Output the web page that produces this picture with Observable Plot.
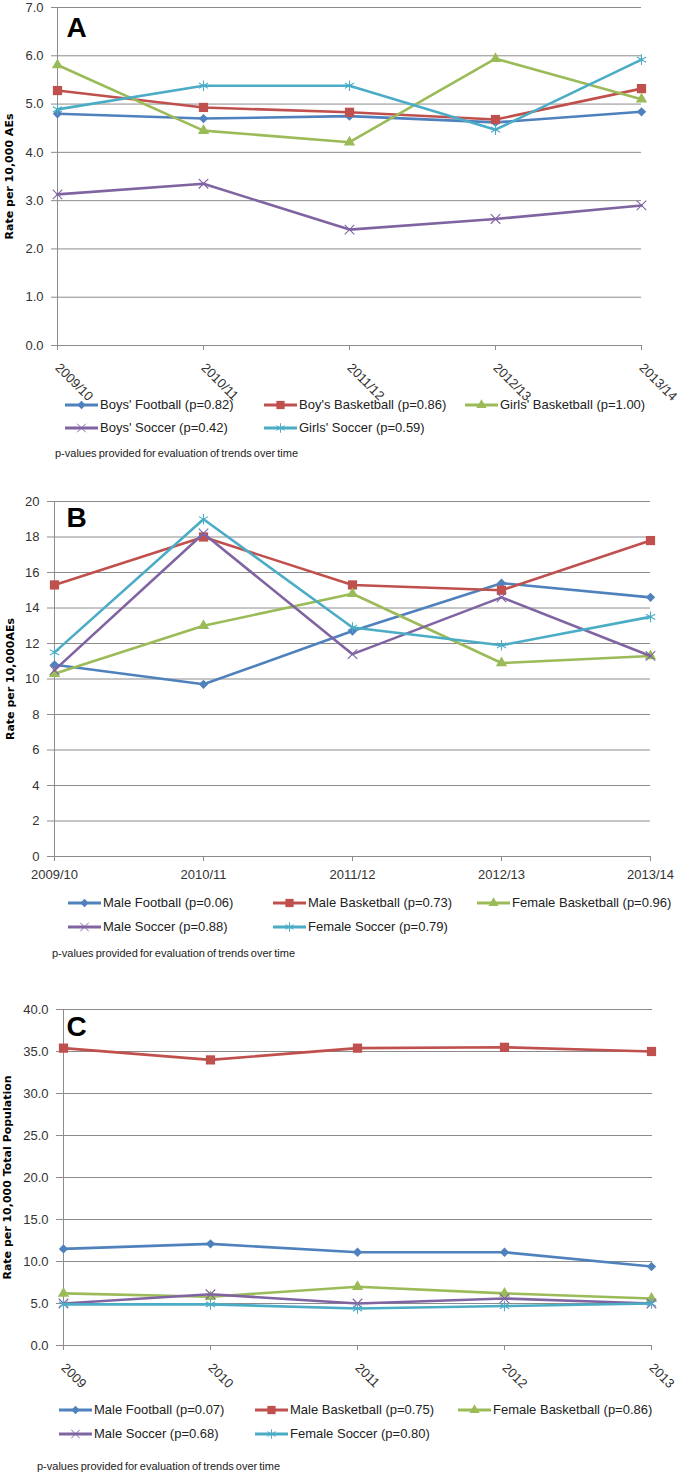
<!DOCTYPE html>
<html><head><meta charset="utf-8">
<script src="https://cdn.jsdelivr.net/npm/d3@7"></script>
<script src="https://cdn.jsdelivr.net/npm/@observablehq/plot@0.6"></script>
<style>
html,body{margin:0;padding:0;background:#fff;}
#page{position:relative;width:685px;height:1473px;overflow:hidden;font-family:"Liberation Sans",Arial,sans-serif;}
.panel{position:absolute;left:0;}
.leg{position:absolute;display:flex;align-items:center;font-size:13px;color:#222;white-space:nowrap;line-height:18px;}
.leg svg{display:block;margin-right:2px;}
.note{position:absolute;font-size:11px;color:#222;white-space:nowrap;word-spacing:-1px;line-height:14px;}
</style></head><body><div id="page"></div>
<script>
// ---------- DATA ----------
const seasons = ["2009/10", "2010/11", "2011/12", "2012/13", "2013/14"];
const years = ["2009", "2010", "2011", "2012", "2013"];

const seriesA = ["Boys' Football (p=0.82)", "Boy's Basketball (p=0.86)", "Girls' Basketball (p=1.00)", "Boys' Soccer (p=0.42)", "Girls' Soccer (p=0.59)"];
const boysFootballA   = [4.80, 4.70, 4.75, 4.62, 4.84];
const boysBasketballA = [5.28, 4.93, 4.83, 4.68, 5.32];
const girlsBasketballA = [5.81, 4.45, 4.21, 5.94, 5.10];
const boysSoccerA     = [3.13, 3.35, 2.40, 2.62, 2.90];
const girlsSoccerA    = [4.89, 5.38, 5.38, 4.47, 5.92];
const ticksA = [0, 1, 2, 3, 4, 5, 6, 7];

const seriesB = ["Male Football (p=0.06)", "Male Basketball (p=0.73)", "Female Basketball (p=0.96)", "Male Soccer (p=0.88)", "Female Soccer (p=0.79)"];
const maleFootballB    = [10.8, 9.7, 12.7, 15.4, 14.6];
const maleBasketballB  = [15.3, 18.0, 15.3, 15.0, 17.8];
const femaleBasketballB = [10.3, 13.0, 14.8, 10.9, 11.3];
const maleSoccerB      = [10.5, 18.2, 11.4, 14.6, 11.3];
const femaleSoccerB    = [11.5, 19.0, 12.9, 11.9, 13.5];
const ticksB = [0, 2, 4, 6, 8, 10, 12, 14, 16, 18, 20];

const seriesC = ["Male Football (p=0.07)", "Male Basketball (p=0.75)", "Female Basketball (p=0.86)", "Male Soccer (p=0.68)", "Female Soccer (p=0.80)"];
const maleFootballC    = [11.5, 12.1, 11.1, 11.1, 9.4];
const maleBasketballC  = [35.4, 34.0, 35.4, 35.5, 35.0];
const femaleBasketballC = [6.2, 5.8, 7.0, 6.2, 5.6];
const maleSoccerC      = [5.0, 6.1, 5.0, 5.6, 5.0];
const femaleSoccerC    = [4.9, 4.9, 4.4, 4.7, 5.0];
const ticksC = [0, 5, 10, 15, 20, 25, 30, 35, 40];

const footnote = "p-values provided for evaluation of trends over time";

// ---------- STYLE ----------
const colors = ["#4F81BD", "#C0504D", "#9BBB59", "#8064A2", "#4BACC6"];
const markers = [
  {symbol: "diamond2", r: 4.2, filled: true},
  {symbol: "square", r: 5.2, filled: true},
  {symbol: "triangle", r: 4.2, filled: true},
  {symbol: "times", r: 4.4, filled: false},
  {symbol: "asterisk", r: 5.0, filled: false}
];
const d3sym = {diamond2: d3.symbolDiamond2, square: d3.symbolSquare, triangle: d3.symbolTriangle, times: d3.symbolTimes, asterisk: d3.symbolAsterisk};
const gridColor = "#8c8c8c";
const textColor = "#333";

const page = document.getElementById("page");

function buildPanel(cfg) {
  const rows = [];
  cfg.series.forEach((name, i) => {
    cfg.values[i].forEach((v, j) => rows.push({cat: cfg.cats[j], value: v, series: name, idx: i}));
  });
  const marks = [
    Plot.ruleY(cfg.ticks, {stroke: gridColor, strokeWidth: 1}),
    Plot.ruleX([cfg.cats[0]], {stroke: gridColor, strokeWidth: 1}),
    Plot.axisY({ticks: cfg.ticks, tickFormat: cfg.fmt, tickSize: 6, tickPadding: 8, stroke: gridColor, fill: textColor, fontSize: 13, label: null}),
  ];
  if (cfg.rotate) {
    marks.push(Plot.axisX({ticks: cfg.cats, tickSize: 5, tickFormat: () => "", stroke: gridColor, label: null}));
    marks.push(Plot.text(cfg.cats, {x: d => d, frameAnchor: "bottom", dy: cfg.labelDy, rotate: 45, textAnchor: "start", lineAnchor: "middle", fill: textColor, fontSize: 13}));
  } else {
    marks.push(Plot.axisX({ticks: cfg.cats, tickSize: 5, tickPadding: cfg.labelPad, stroke: gridColor, fill: textColor, fontSize: 13, label: null}));
  }
  cfg.series.forEach((name, i) => {
    const d = rows.filter(r => r.idx === i);
    const m = markers[i];
    marks.push(Plot.line(d, {x: "cat", y: "value", stroke: colors[i], strokeWidth: 2.6}));
    marks.push(Plot.dot(d, m.filled
      ? {x: "cat", y: "value", symbol: m.symbol, r: m.r, fill: colors[i], stroke: "none"}
      : {x: "cat", y: "value", symbol: m.symbol, r: m.r, fill: "none", stroke: colors[i], strokeWidth: 1.1}));
  });
  marks.push(Plot.text([cfg.letter], {frameAnchor: "top-left", dx: cfg.letterDx, dy: cfg.letterDy, lineAnchor: "top", textAnchor: "start", fontSize: 28, fontWeight: "bold", fill: "#000", fontFamily: "Liberation Sans, Arial, sans-serif"}));
  marks.push(Plot.text([cfg.title], {frameAnchor: "left", dx: -cfg.titleOffset, rotate: -90, textAnchor: "middle", lineAnchor: "middle", fontSize: 11, fontWeight: "bold", fill: "#000", fontFamily: "DejaVu Sans, sans-serif"}));

  const svg = Plot.plot({
    width: 685, height: cfg.height,
    marginLeft: cfg.mL, marginRight: cfg.mR, marginTop: cfg.mT, marginBottom: cfg.mB,
    x: {type: "point", domain: cfg.cats, padding: 0, label: null},
    y: {domain: [cfg.ticks[0], cfg.ticks[cfg.ticks.length - 1]], label: null},
    style: {fontFamily: "Liberation Sans, Arial, sans-serif", fontSize: "13px", color: textColor, background: "transparent", overflow: "visible"},
    marks
  });
  svg.classList.add("panel");
  svg.style.top = cfg.top + "px";
  page.appendChild(svg);

  // legend
  cfg.series.forEach((name, i) => {
    const div = document.createElement("div");
    div.className = "leg";
    div.style.left = cfg.legCols[i % 3] + "px";
    div.style.top = (cfg.legRows[Math.floor(i / 3)] - 9) + "px";
    const s = d3.create("svg").attr("width", 33).attr("height", 14);
    s.append("line").attr("x1", 0).attr("x2", 33).attr("y1", 7).attr("y2", 7).attr("stroke", colors[i]).attr("stroke-width", 3);
    const m = markers[i];
    const path = d3.symbol(d3sym[m.symbol], Math.PI * m.r * m.r * 0.8)();
    const p = s.append("path").attr("d", path).attr("transform", "translate(16.5,7)");
    if (m.filled) p.attr("fill", colors[i]); else p.attr("fill", "none").attr("stroke", colors[i]).attr("stroke-width", 1);
    div.appendChild(s.node());
    const span = document.createElement("span");
    span.textContent = name;
    div.appendChild(span);
    page.appendChild(div);
  });
  const note = document.createElement("div");
  note.className = "note";
  note.style.left = cfg.noteX + "px";
  note.style.top = (cfg.noteY - 7) + "px";
  note.textContent = footnote;
  page.appendChild(note);
}

buildPanel({
  top: 0, height: 398, mL: 57, mR: 44, mT: 7, mB: 53,
  cats: seasons, ticks: ticksA, fmt: d3.format(".1f"),
  series: seriesA, values: [boysFootballA, boysBasketballA, girlsBasketballA, boysSoccerA, girlsSoccerA],
  rotate: true, labelDy: 20,
  letter: "A", letterDx: 9, letterDy: 10,
  title: "Rate per 10,000 AEs", titleOffset: 48,
  legCols: [65, 264, 465], legRows: [405, 428], noteX: 55, noteY: 453
});

buildPanel({
  top: 490, height: 400, mL: 53, mR: 35, mT: 11, mB: 34,
  cats: seasons, ticks: ticksB, fmt: d3.format("d"),
  series: seriesB, values: [maleFootballB, maleBasketballB, femaleBasketballB, maleSoccerB, femaleSoccerB],
  rotate: false, labelPad: 8,
  letter: "B", letterDx: 13, letterDy: 6,
  title: "Rate per 10,000AEs", titleOffset: 43,
  legCols: [68, 273, 477], legRows: [903, 927], noteX: 52, noteY: 953
});

buildPanel({
  top: 990, height: 400, mL: 62, mR: 33, mT: 19, mB: 45,
  cats: years, ticks: ticksC, fmt: d3.format(".1f"),
  series: seriesC, values: [maleFootballC, maleBasketballC, femaleBasketballC, maleSoccerC, femaleSoccerC],
  rotate: true, labelDy: 20,
  letter: "C", letterDx: 4, letterDy: 7,
  title: "Rate per 10,000 Total Population", titleOffset: 55,
  legCols: [59, 255, 458], legRows: [1410, 1434], noteX: 37, noteY: 1466
});
</script></body></html>
